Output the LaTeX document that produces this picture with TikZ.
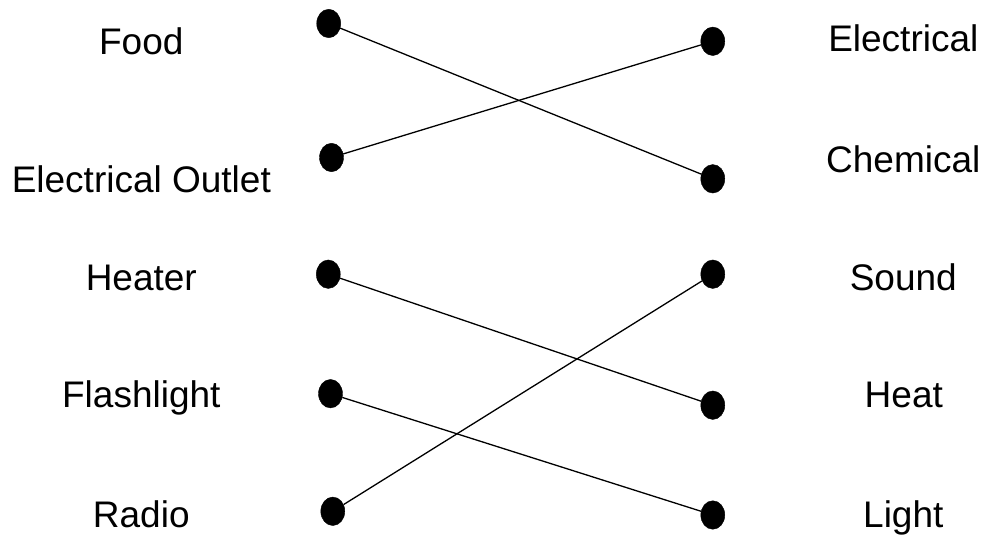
\documentclass[tikz,border=0pt]{standalone}
\usepackage{fontspec}
\setmainfont{Liberation Sans}
\usetikzlibrary{shapes.geometric}
\begin{document}
\begin{tikzpicture}[x=1pt,y=-1pt,
  lbl/.style={inner sep=0pt,anchor=base,font=\fontsize{37}{41}\selectfont},
  dot/.style={ellipse,fill=black,draw=black,inner sep=0pt,minimum width=24pt,minimum height=28.5pt},
  conn/.style={line width=1.3pt,black}]
\useasboundingbox (0,0) rectangle (986,535);
% labels
\node[lbl] (tfood) at (141.3,55) {Food};
\node[lbl] (toutlet) at (141.3,192.7) {Electrical Outlet};
\node[lbl] (theater) at (141.3,290) {Heater};
\node[lbl] (tflash) at (141.3,407.7) {Flashlight};
\node[lbl] (tradio) at (141.3,527.3) {Radio};
\node[lbl] (telec) at (903.3,51.7) {Electrical};
\node[lbl] (tchem) at (903.3,172.7) {Chemical};
\node[lbl] (tsound) at (903.3,290) {Sound};
\node[lbl] (theat) at (903.8,407.7) {Heat};
\node[lbl] (tlight) at (903.3,527.3) {Light};
% dots
\node[dot] (food) at (328.7,23.5) {};
\node[dot] (outlet) at (331.5,157.5) {};
\node[dot] (heater) at (328.3,274.2) {};
\node[dot] (flash) at (330.5,393.7) {};
\node[dot] (radio) at (332.8,511.3) {};
\node[dot] (elec) at (712.8,41.3) {};
\node[dot] (chem) at (712.8,178.8) {};
\node[dot] (sound) at (712.8,274.2) {};
\node[dot] (heat) at (712.8,405.2) {};
\node[dot] (light) at (712.8,515) {};
% connectors
\draw[conn] (food) -- (chem);
\draw[conn] (outlet) -- (elec);
\draw[conn] (heater) -- (heat);
\draw[conn] (flash) -- (light);
\draw[conn] (radio) -- (sound);
\end{tikzpicture}
\end{document}
